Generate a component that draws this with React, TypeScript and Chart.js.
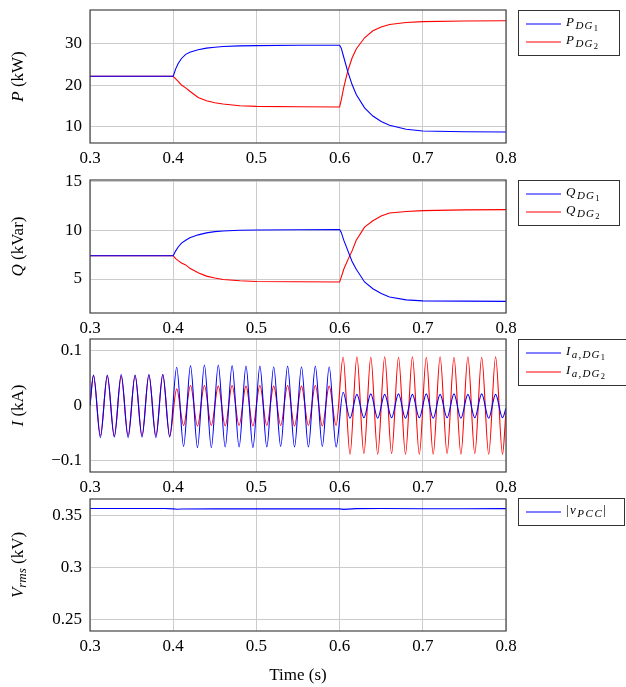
import React, { useEffect, useRef } from "react";
import { Chart, registerables } from "chart.js";
Chart.register(...registerables);

const FONT = '"Liberation Serif", "DejaVu Serif", serif';

// ---------- axis ticks ----------
const xTicks = [0.3, 0.4, 0.5, 0.6, 0.7, 0.8];
const pTicks = [10, 20, 30];
const qTicks = [5, 10, 15];
const iTicks = [-0.1, 0, 0.1];
const vTicks = [0.25, 0.3, 0.35];

// ---------- P and Q (time base) ----------
const pqTime = [0.3, 0.35, 0.4, 0.403, 0.406, 0.41, 0.415, 0.42, 0.43, 0.44, 0.45, 0.46, 0.48, 0.5, 0.55, 0.6, 0.602, 0.605, 0.61, 0.615, 0.62, 0.63, 0.64, 0.65, 0.66, 0.68, 0.7, 0.75, 0.8];
const pDG1 = [22.2, 22.2, 22.2, 24.0, 25.3, 26.5, 27.5, 28.0, 28.6, 29.0, 29.2, 29.4, 29.55, 29.6, 29.7, 29.7, 29.0, 26.8, 23.2, 20.2, 17.8, 14.6, 12.6, 11.3, 10.4, 9.4, 9.0, 8.8, 8.75];
const pDG2 = [22.2, 22.2, 22.2, 21.6, 21.0, 20.1, 19.4, 18.6, 17.1, 16.3, 15.8, 15.5, 15.1, 14.95, 14.85, 14.8, 16.5, 19.5, 23.6, 26.6, 28.8, 31.5, 33.2, 34.1, 34.7, 35.2, 35.4, 35.55, 35.6];
const qDG1 = [7.4, 7.4, 7.4, 7.9, 8.3, 8.7, 9.0, 9.25, 9.55, 9.75, 9.88, 9.95, 10.02, 10.05, 10.08, 10.1, 9.8, 9.0, 7.9, 6.8, 6.0, 4.7, 4.0, 3.5, 3.15, 2.85, 2.75, 2.72, 2.7];
const qDG2 = [7.4, 7.4, 7.4, 7.1, 6.9, 6.65, 6.45, 6.1, 5.65, 5.3, 5.1, 4.95, 4.82, 4.75, 4.72, 4.7, 5.2, 6.0, 7.0, 7.9, 9.0, 10.35, 11.0, 11.5, 11.8, 11.95, 12.05, 12.12, 12.15];

// ---------- phase currents (extrema of the 60 Hz waves) ----------
const iTime = [0.3, 0.3042, 0.3125, 0.3208, 0.3292, 0.3375, 0.3458, 0.3542, 0.3625, 0.3708, 0.3792, 0.3875, 0.3958,
  0.4042, 0.4125, 0.4208, 0.4292, 0.4375, 0.4458, 0.4542, 0.4625, 0.4708, 0.4792, 0.4875, 0.4958,
  0.5042, 0.5125, 0.5208, 0.5292, 0.5375, 0.5458, 0.5542, 0.5625, 0.5708, 0.5792, 0.5875, 0.5958,
  0.6042, 0.6125, 0.6208, 0.6292, 0.6375, 0.6458, 0.6542, 0.6625, 0.6708, 0.6792, 0.6875, 0.6958,
  0.7042, 0.7125, 0.7208, 0.7292, 0.7375, 0.7458, 0.7542, 0.7625, 0.7708, 0.7792, 0.7875, 0.7958, 0.8];
const iDG1 = [0,
  0.055, -0.058, 0.055, -0.057, 0.056, -0.058, 0.055, -0.057, 0.056, -0.058, 0.056, -0.057,
  0.069, -0.074, 0.072, -0.076, 0.073, -0.076, 0.073, -0.075, 0.072, -0.075, 0.071, -0.076,
  0.071, -0.075, 0.070, -0.074, 0.071, -0.075, 0.070, -0.075, 0.071, -0.074, 0.070, -0.075,
  0.024, -0.023, 0.020, -0.022, 0.021, -0.023, 0.020, -0.022, 0.021, -0.023, 0.020, -0.022,
  0.021, -0.023, 0.020, -0.022, 0.021, -0.023, 0.020, -0.022, 0.021, -0.023, 0.020, -0.022,
  -0.005];
const iDG2 = [0,
  0.054, -0.054, 0.053, -0.055, 0.053, -0.054, 0.054, -0.054, 0.055, -0.054, 0.056, -0.055,
  0.030, -0.036, 0.036, -0.037, 0.036, -0.036, 0.035, -0.037, 0.036, -0.036, 0.035, -0.037,
  0.036, -0.036, 0.035, -0.036, 0.036, -0.037, 0.035, -0.036, 0.036, -0.037, 0.035, -0.036,
  0.087, -0.088, 0.088, -0.087, 0.087, -0.088, 0.088, -0.087, 0.087, -0.088, 0.088, -0.088,
  0.087, -0.088, 0.088, -0.087, 0.087, -0.088, 0.088, -0.087, 0.087, -0.088, 0.088, -0.088,
  -0.01];

// ---------- PCC voltage ----------
const vTime = [0.3, 0.35, 0.39, 0.4, 0.405, 0.41, 0.45, 0.5, 0.55, 0.59, 0.6, 0.605, 0.61, 0.62, 0.65, 0.7, 0.75, 0.8];
const vPCC = [0.3568, 0.3568, 0.3568, 0.3565, 0.3562, 0.3564, 0.3565, 0.3565, 0.3565, 0.3565, 0.3565, 0.3560, 0.3563, 0.3567, 0.3568, 0.3566, 0.3566, 0.3567];

// text, size, italic, dy, letterSpacing
type Seg = [string, number, boolean, number, number?];

const BLUE = "rgb(0,0,255)";
const RED = "rgb(255,0,0)";

function fmt(v: number) {
  if (Math.abs(v) < 1e-12) return "0";
  const s = String(Math.abs(v));
  return v < 0 ? "\u2212" + s : s;
}

function setSeg(ctx: any, s: number, it: boolean, ls?: number) {
  ctx.font = `${it ? "italic " : ""}${s}px ${FONT}`;
  ctx.letterSpacing = `${ls || 0}px`;
}
function segW(ctx: CanvasRenderingContext2D, segs: Seg[]) {
  let w = 0;
  for (const [t, s, it, , ls] of segs) {
    setSeg(ctx, s, it, ls);
    w += ctx.measureText(t).width;
  }
  (ctx as any).letterSpacing = "0px";
  return w;
}
function drawSegs(ctx: CanvasRenderingContext2D, segs: Seg[], x: number, y: number) {
  let cx = x;
  for (const [t, s, it, dy, ls] of segs) {
    setSeg(ctx, s, it, ls);
    ctx.fillText(t, cx, y + dy);
    cx += ctx.measureText(t).width;
  }
  (ctx as any).letterSpacing = "0px";
}

const pts = (xs: number[], ys: number[]) => xs.map((x, i) => ({ x, y: ys[i] }));

interface PanelDef {
  top: number;
  h: number;
  padTop: number;
  xH: number;
  yMin: number;
  yMax: number;
  yTicks: number[];
  yTitle: Seg[];
  datasets: any[];
  legend: { box: [number, number, number, number]; items: { color: string; y: number; segs: Seg[] }[] };
  xTitle?: string;
}

const sub = (main: string, s1: string, s2: string): Seg[] => [
  [main, 13, true, 0, 1.5],
  [s1, 11, true, 3, 1.2],
  [s2, 8.5, false, 5, 0],
];

const panels: PanelDef[] = [
  {
    top: 0, h: 170, padTop: 10, xH: 27, yMin: 6.1, yMax: 38.2, yTicks: pTicks,
    yTitle: [["P", 17, true, 0], [" (kW)", 17, false, 0]],
    datasets: [
      { data: pts(pqTime, pDG1), borderColor: BLUE },
      { data: pts(pqTime, pDG2), borderColor: RED },
    ],
    legend: { box: [518, 10, 620, 56], items: [
      { color: BLUE, y: 24, segs: sub("P", "DG", "1") },
      { color: RED, y: 42, segs: sub("P", "DG", "2") },
    ] },
  },
  {
    top: 170, h: 164, padTop: 10, xH: 21, yMin: 1.5, yMax: 15.2, yTicks: qTicks,
    yTitle: [["Q", 17, true, 0], [" (kVar)", 17, false, 0]],
    datasets: [
      { data: pts(pqTime, qDG1), borderColor: BLUE },
      { data: pts(pqTime, qDG2), borderColor: RED },
    ],
    legend: { box: [518, 10, 620, 56], items: [
      { color: BLUE, y: 24, segs: sub("Q", "DG", "1") },
      { color: RED, y: 42, segs: sub("Q", "DG", "2") },
    ] },
  },
  {
    top: 334, h: 163, padTop: 5, xH: 25, yMin: -0.12, yMax: 0.12, yTicks: iTicks,
    yTitle: [["I", 17, true, 0], [" (kA)", 17, false, 0]],
    datasets: [
      { data: pts(iTime, iDG1), borderColor: BLUE, cubicInterpolationMode: "monotone" },
      { data: pts(iTime, iDG2), borderColor: RED, cubicInterpolationMode: "monotone" },
    ],
    legend: { box: [518, 5, 627, 52], items: [
      { color: BLUE, y: 19, segs: sub("I", "a,DG", "1") },
      { color: RED, y: 38, segs: sub("I", "a,DG", "2") },
    ] },
  },
  {
    top: 497, h: 190, padTop: 2, xH: 56, yMin: 0.239, yMax: 0.366, yTicks: vTicks,
    yTitle: [["V", 17, true, 0], ["rms", 13, true, 4], [" (kV)", 17, false, 0]],
    datasets: [{ data: pts(vTime, vPCC), borderColor: BLUE }],
    legend: { box: [518, 1, 625, 29], items: [
      { color: BLUE, y: 15, segs: [["|", 13, false, 0, 1.5], ["v", 13, true, 0, 1.5], ["PCC", 11, true, 3, 1.5], ["|", 13, false, 0, 0]] },
    ] },
    xTitle: "Time (s)",
  },
];

function buildChart(canvas: HTMLCanvasElement, p: PanelDef) {
  const tickFont = { family: FONT, size: 17 };
  return new Chart(canvas, {
    type: "line",
    data: {
      datasets: p.datasets.map((d) => ({
        borderWidth: 1.1,
        pointRadius: 0,
        fill: false,
        tension: 0,
        ...d,
      })),
    },
    options: {
      animation: false,
      responsive: false,
      maintainAspectRatio: false,
      devicePixelRatio: 1,
      events: [],
      layout: { padding: { top: p.padTop, right: 120, left: 0, bottom: 0 } },
      plugins: { legend: { display: false }, tooltip: { enabled: false } },
      scales: {
        x: {
          type: "linear",
          min: 0.3,
          max: 0.8,
          afterBuildTicks: (s: any) => { s.ticks = xTicks.map((v) => ({ value: v })); },
          afterFit: (s: any) => { s.height = p.xH; s.paddingLeft = 0; s.paddingRight = 0; s.paddingTop = 0; s.paddingBottom = 0; },
          ticks: { font: tickFont, color: "#000", padding: 5, callback: (v: any) => fmt(Number(v)), maxRotation: 0, autoSkip: false },
          grid: { color: "#cccccc", lineWidth: 1, drawTicks: false },
          border: { display: false },
        },
        y: {
          type: "linear",
          min: p.yMin,
          max: p.yMax,
          afterBuildTicks: (s: any) => { s.ticks = p.yTicks.map((v) => ({ value: v })); },
          afterFit: (s: any) => { s.width = 90; s.paddingTop = 0; s.paddingBottom = 0; s.paddingLeft = 0; s.paddingRight = 0; },
          ticks: { font: tickFont, color: "#000", padding: 8, callback: (v: any) => fmt(Number(v)), autoSkip: false },
          grid: { color: "#cccccc", lineWidth: 1, drawTicks: false },
          border: { display: false },
        },
      },
    } as any,
    plugins: [
      {
        id: "decor",
        afterDraw(chart: any) {
          const ctx: CanvasRenderingContext2D = chart.ctx;
          const a = chart.chartArea;
          ctx.save();
          // frame
          ctx.strokeStyle = "#444";
          ctx.lineWidth = 1.2;
          ctx.strokeRect(a.left, a.top, a.right - a.left, a.bottom - a.top);
          // y title
          ctx.fillStyle = "#000";
          ctx.textBaseline = "middle";
          ctx.textAlign = "left";
          const cy = (a.top + a.bottom) / 2;
          ctx.save();
          ctx.translate(19, cy);
          ctx.rotate(-Math.PI / 2);
          const w = segW(ctx, p.yTitle);
          drawSegs(ctx, p.yTitle, -w / 2, 0);
          ctx.restore();
          // legend
          const [x1, y1, x2, y2] = p.legend.box;
          ctx.fillStyle = "#fff";
          ctx.fillRect(x1, y1, x2 - x1, y2 - y1);
          ctx.strokeStyle = "#333";
          ctx.lineWidth = 1;
          ctx.strokeRect(x1 + 0.5, y1 + 0.5, x2 - x1 - 1, y2 - y1 - 1);
          ctx.textBaseline = "alphabetic";
          for (const it of p.legend.items) {
            ctx.strokeStyle = it.color;
            ctx.lineWidth = 1.1;
            ctx.beginPath();
            ctx.moveTo(526, it.y);
            ctx.lineTo(561, it.y);
            ctx.stroke();
            ctx.fillStyle = "#000";
            drawSegs(ctx, it.segs, 566, it.y + 2);
          }
          // x title
          if (p.xTitle) {
            ctx.font = `17px ${FONT}`;
            ctx.textAlign = "center";
            ctx.textBaseline = "middle";
            ctx.fillStyle = "#000";
            ctx.fillText(p.xTitle, (a.left + a.right) / 2, 179);
          }
          ctx.restore();
        },
      },
    ],
  });
}

export default function App() {
  const refs = useRef<(HTMLCanvasElement | null)[]>([]);
  useEffect(() => {
    const charts = panels.map((p, i) => buildChart(refs.current[i] as HTMLCanvasElement, p));
    return () => charts.forEach((c) => c.destroy());
  }, []);
  return (
    <div style={{ position: "absolute", left: 0, top: 0, width: 626, height: 687, background: "#fff", overflow: "hidden" }}>
      {panels.map((p, i) => (
        <canvas
          key={i}
          ref={(el) => { refs.current[i] = el; }}
          width={626}
          height={p.h}
          style={{ position: "absolute", left: 0, top: p.top, width: 626, height: p.h }}
        />
      ))}
    </div>
  );
}
